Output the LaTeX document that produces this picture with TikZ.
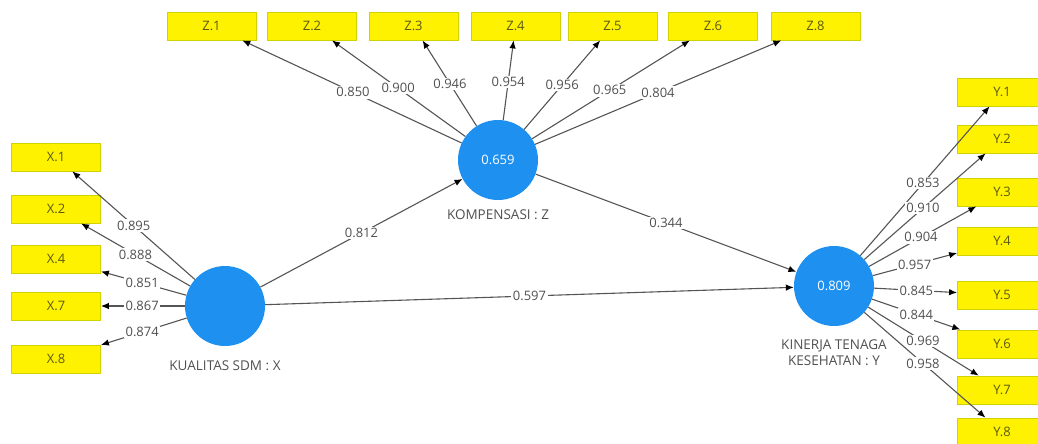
\documentclass[tikz,border=0pt]{standalone}
\usepackage{fontspec}
\setmainfont{Open Sans}
\usetikzlibrary{arrows.meta}
\definecolor{lvblue}{HTML}{1E90F0}
\definecolor{ybord}{HTML}{D2D200}
\definecolor{indtext}{HTML}{5A5A10}
\definecolor{linegray}{HTML}{555555}
\definecolor{labelgray}{HTML}{505050}
\begin{document}
\begin{tikzpicture}[x=1pt,y=-1pt,
  every node/.style={font=\fontsize{13}{15}\selectfont},
  latent/.style={circle,fill=lvblue,minimum size=80pt,inner sep=0pt,text=white},
  ind/.style={rectangle,fill=yellow,draw=ybord,line width=0.8pt,minimum width=89pt,
    minimum height=28pt,inner sep=0pt,text=indtext},
  conn/.style={draw=linegray,line width=1.1pt,-{Latex[length=8pt,width=6.5pt,color=black]}},
  lbl/.style={fill=white,inner sep=1.5pt,text=labelgray},
  lvcaption/.style={text=labelgray,align=center,font=\fontsize{13.5}{16}\selectfont}]
\useasboundingbox (0,0) rectangle (1038,444);

% latent variables
\node[latent] (X) at (225,306) {};
\node[latent] (Z) at (498,160) {0.659};
\node[latent] (Y) at (834,286) {0.809};
\node[lvcaption] (capX) at (225,366) {KUALITAS SDM : X};
\node[lvcaption] (capZ) at (498,215) {KOMPENSASI : Z};
\node[lvcaption] (capY) at (834,353) {KINERJA TENAGA\\KESEHATAN : Y};

% indicators of X
\node[ind] (x1) at (56,157) {X.1};
\node[ind] (x2) at (56,209) {X.2};
\node[ind] (x4) at (56,259) {X.4};
\node[ind] (x7) at (56,306) {X.7};
\node[ind] (x8) at (56,359) {X.8};

% indicators of Z
\node[ind] (z1) at (211.5,26) {Z.1};
\node[ind] (z2) at (312,26) {Z.2};
\node[ind] (z3) at (413.5,26) {Z.3};
\node[ind] (z4) at (515.5,26) {Z.4};
\node[ind] (z5) at (612.5,26) {Z.5};
\node[ind] (z6) at (713,26) {Z.6};
\node[ind] (z8) at (815.5,26) {Z.8};

% indicators of Y
\node[ind] (y1) at (1002,92) {Y.1};
\node[ind] (y2) at (1002,139) {Y.2};
\node[ind] (y3) at (1002,192) {Y.3};
\node[ind] (y4) at (1002,241) {Y.4};
\node[ind] (y5) at (1002,295) {Y.5};
\node[ind] (y6) at (1002,344) {Y.6};
\node[ind] (y7) at (1002,390) {Y.7};
\node[ind] (y8) at (1002,432) {Y.8};

% outer loadings
\foreach \t/\p/\v in {x1/.54/0.895, x2/.53/0.888, x4/.49/0.851, x7/.49/0.867, x8/.49/0.874}{
  \draw[conn] (X) -- (\t);
  \path (X.center) -- (\t.center) node[lbl,pos=\p] {\v};
}
\foreach \t/\p/\v in {z1/.506/0.850, z2/.537/0.900, z3/.568/0.946, z4/.583/0.954,
                      z5/.56/0.956, z6/.52/0.965, z8/.504/0.804}{
  \draw[conn] (Z) -- (\t);
  \path (Z.center) -- (\t.center) node[lbl,pos=\p] {\v};
}
\foreach \t/\p/\v in {y1/.53/0.853, y2/.53/0.910, y3/.518/0.904, y4/.48/0.957,
                      y5/.49/0.845, y6/.49/0.844, y7/.53/0.969, y8/.53/0.958}{
  \draw[conn] (Y) -- (\t);
  \path (Y.center) -- (\t.center) node[lbl,pos=\p] {\v};
}

% path coefficients
\draw[conn] (X) -- (Z) node[lbl,pos=.5] {0.812};
\draw[conn] (Z) -- (Y) node[lbl,pos=.5] {0.344};
\draw[conn] (X) -- (Y) node[lbl,pos=.5] {0.597};
\end{tikzpicture}
\end{document}
